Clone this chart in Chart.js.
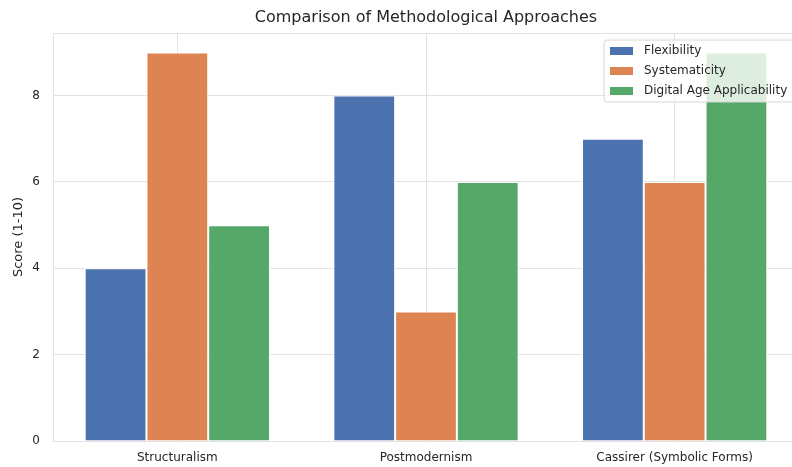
<!DOCTYPE html>
<html>
<head>
<meta charset="utf-8">
<script src="https://cdn.jsdelivr.net/npm/chart.js@4"></script>
<style>
  html, body { margin: 0; padding: 0; overflow: hidden; background: #fff; }
  #wrap { width: 854px; height: 467px; }
</style>
</head>
<body>
<div id="wrap"><canvas id="chart" width="854" height="467"></canvas></div>
<script>
// categories and scores
const categories = ['Structuralism', 'Postmodernism', 'Cassirer (Symbolic Forms)'];
const seriesNames = ['Flexibility', 'Systematicity', 'Digital Age Applicability'];
const flexibility = [4, 8, 7];
const systematicity = [9, 3, 6];
const digitalAge = [5, 6, 9];
const colors = ['#4c72b0', '#dd8452', '#55a868'];
const chartTitle = 'Comparison of Methodological Approaches';

const FONT = "'DejaVu Sans', sans-serif";
const TEXT = '#262626';
const GRID = '#e2e2e2';

// title centred over the plot area (matplotlib style), not over the canvas
const axesTitle = {
  id: 'axesTitle',
  afterDraw(chart) {
    const a = chart.chartArea, ctx = chart.ctx;
    ctx.save();
    ctx.font = '16px ' + FONT;
    ctx.fillStyle = TEXT;
    ctx.textAlign = 'center';
    ctx.textBaseline = 'middle';
    ctx.fillText(chartTitle, (a.left + a.right) / 2, a.top - 15);
    ctx.restore();
  }
};

// legend box drawn inside the plot, on top of the bars
const innerLegend = {
  id: 'innerLegend',
  afterDraw(chart) {
    const ctx = chart.ctx;
    const x = 604, y = 40, w = 260, h = 62;
    ctx.save();
    ctx.globalAlpha = 0.8;
    ctx.fillStyle = '#ffffff';
    ctx.beginPath();
    ctx.roundRect(x, y, w, h, 3);
    ctx.fill();
    ctx.globalAlpha = 1;
    ctx.strokeStyle = '#d6d6d6';
    ctx.lineWidth = 1;
    ctx.stroke();
    ctx.font = '12px ' + FONT;
    ctx.textBaseline = 'middle';
    chart.data.datasets.forEach((ds, i) => {
      const cy = y + 11 + i * 20;
      ctx.fillStyle = ds.backgroundColor;
      ctx.fillRect(x + 6, cy - 4, 23, 8);
      ctx.fillStyle = TEXT;
      ctx.fillText(ds.label, x + 40, cy);
    });
    ctx.restore();
  }
};

// top spine
const topSpine = {
  id: 'topSpine',
  beforeDatasetsDraw(chart) {
    const a = chart.chartArea, ctx = chart.ctx;
    ctx.save();
    ctx.strokeStyle = GRID;
    ctx.lineWidth = 1;
    ctx.beginPath();
    ctx.moveTo(a.left, a.top + 0.5);
    ctx.lineTo(a.right, a.top + 0.5);
    ctx.stroke();
    ctx.restore();
  }
};

new Chart(document.getElementById('chart'), {
  type: 'bar',
  data: {
    labels: categories,
    datasets: [flexibility, systematicity, digitalAge].map((vals, i) => ({
      label: seriesNames[i],
      data: vals,
      backgroundColor: colors[i],
      borderColor: '#ffffff',
      borderWidth: 1,
      categoryPercentage: 0.745,
      barPercentage: 1.0
    }))
  },
  options: {
    responsive: false,
    devicePixelRatio: 1,
    animation: false,
    layout: { padding: { left: 0, right: 55, top: 33, bottom: 0 } },
    plugins: {
      legend: { display: false },
      tooltip: { enabled: false },
      title: { display: false }
    },
    scales: {
      x: {
        grid: { color: GRID, offset: false, drawTicks: false },
        border: { color: GRID },
        ticks: { color: TEXT, padding: 10, font: { family: FONT, size: 12 } },
        afterFit(scale) { scale.height = 26; }
      },
      y: {
        min: 0,
        max: 9.45,
        grid: { color: GRID, drawTicks: false },
        border: { color: GRID },
        ticks: { stepSize: 2, includeBounds: false, color: TEXT, padding: 13, font: { family: FONT, size: 12 } },
        title: {
          display: true,
          text: 'Score (1-10)',
          color: TEXT,
          font: { family: FONT, size: 13 },
          padding: { top: 11, bottom: 0 }
        },
        afterFit(scale) { scale.width = 53; }
      }
    }
  },
  plugins: [topSpine, axesTitle, innerLegend]
});
</script>
</body>
</html>
